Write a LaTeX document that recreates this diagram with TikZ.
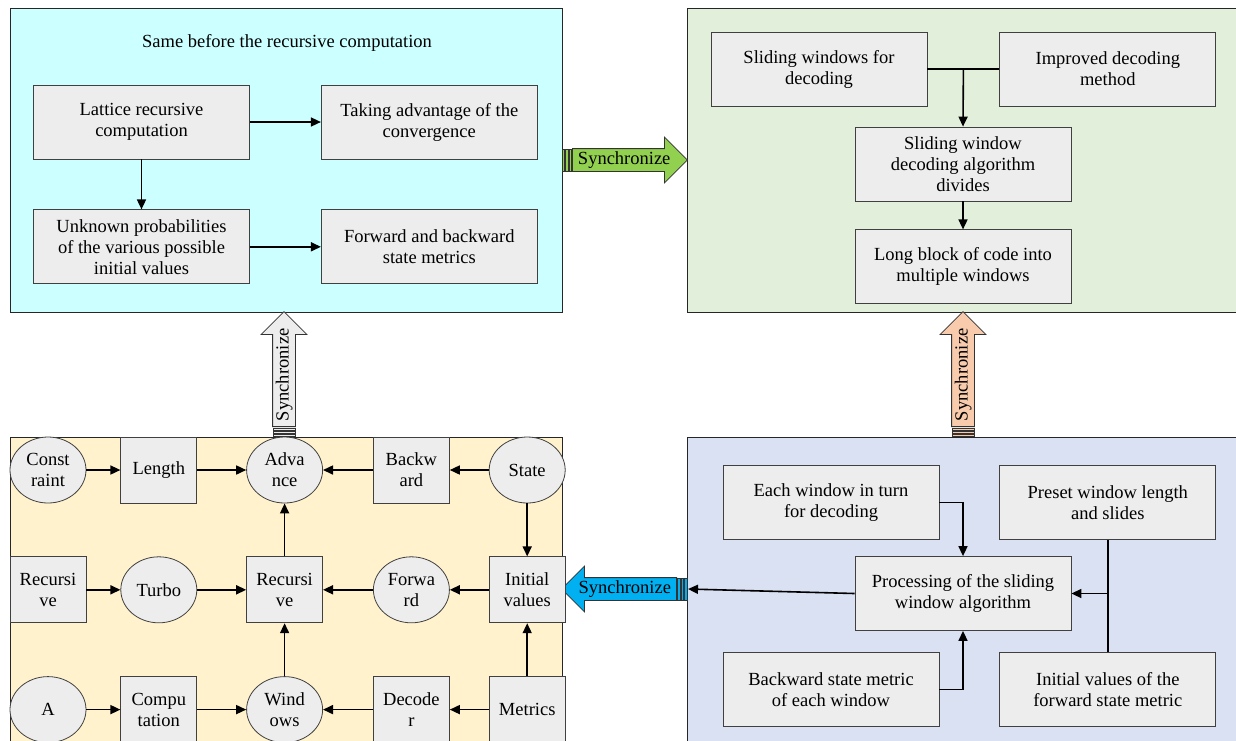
\documentclass[tikz,border=0pt]{standalone}
\usepackage{fontspec}
\setmainfont{Liberation Serif}
\usepackage{tikz}
\usetikzlibrary{positioning}
\usetikzlibrary{calc}
\usetikzlibrary{arrows.meta}
\usetikzlibrary{shapes.geometric}
\usetikzlibrary{shapes.arrows}
\usepackage{xcolor}
\definecolor{cyanpanel}{HTML}{CCFFFF}
\definecolor{greenpanel}{HTML}{E2EFDA}
\definecolor{yellowpanel}{HTML}{FFF2CC}
\definecolor{bluepanel}{HTML}{DAE1F3}
\definecolor{boxgray}{HTML}{EDEDED}
\definecolor{syncgreen}{HTML}{92D050}
\definecolor{syncorange}{HTML}{F8CBAD}
\definecolor{syncblue}{HTML}{00B0F0}

\begin{document}
\begin{tikzpicture} [x = 1pt, y = -1pt,
        every node/.style = {font = \fontsize{18.5}{21}\selectfont},
        panel/.style = {draw = black!85, line width = 0.8pt},
        box/.style = {draw = black!75, fill = boxgray, line width = 0.8pt, minimum width = 216pt, minimum height = 74pt, align = center, inner sep = 1pt},
        cell/.style = {draw = black!75, fill = boxgray, line width = 0.8pt, minimum width = 76pt, minimum height = 66pt, align = center, inner sep = 1pt},
        oval/.style = {cell, ellipse},
        link/.style = {line width = 1.6pt, -{Triangle[length = 10pt, width = 9pt]}},
        sync/.style = {single arrow, draw = black!80, line width = 0.8pt, single arrow head extend = 11.5pt, minimum height = 115pt, inner xsep = 1pt, inner ysep = 3pt, text height = 12.5pt, text depth = 3.5pt},
        stripe/.style = {draw = black!80, line width = 0.5pt}]
        \useasboundingbox (0,0) rectangle (1236,740);
        \clip (0,0) rectangle (1236,740);

        %Felder
        \draw[panel, fill = cyanpanel] (10,8) rectangle (562,312);
        \draw[panel, fill = greenpanel] (687,8) rectangle (1240,312);
        \draw[panel, fill = yellowpanel] (10,437) rectangle (562,745);
        \draw[panel, fill = bluepanel] (687,437) rectangle (1240,745);

        %Synchronize
        \node[sync, fill = syncgreen, anchor = tail] (s1) at (572,160) {Synchronize};
        \draw[stripe, fill = syncgreen] (562,149) rectangle (564.5,171);
        \draw[stripe, fill = syncgreen] (565.5,149) rectangle (568,171);
        \draw[stripe, fill = syncgreen] (569,149) rectangle (571.5,171);

        \node[sync, fill = boxgray, anchor = tail, rotate = 90] (s2) at (284,427) {Synchronize};
        \draw[stripe, fill = boxgray] (273,428) rectangle (295,430);
        \draw[stripe, fill = boxgray] (273,431) rectangle (295,433);
        \draw[stripe, fill = boxgray] (273,434) rectangle (295,436.5);

        \node[sync, fill = syncorange, anchor = tail, rotate = 90] (s3) at (963,427) {Synchronize};
        \draw[stripe, fill = syncorange] (952,428) rectangle (974,430);
        \draw[stripe, fill = syncorange] (952,431) rectangle (974,433);
        \draw[stripe, fill = syncorange] (952,434) rectangle (974,436.5);

        \node[sync, fill = syncblue, anchor = tail, shape border rotate = 180] (s4) at (677,589) {Synchronize};
        \draw[stripe, fill = syncblue] (677.5,578) rectangle (680,600);
        \draw[stripe, fill = syncblue] (681,578) rectangle (683.5,600);
        \draw[stripe, fill = syncblue] (684.5,578) rectangle (687,600);
        \coordinate (k4) at (688,589);

        %Knoten oben links
        \node (t0) at (287,43) {Same before the recursive computation};
        \node[box] (a0) at (141.5,122) {Lattice recursive\\computation};
        \node[box] (a1) [right = 71pt of a0] {Taking advantage of the\\convergence};
        \node[box] (a2) [below = 50pt of a0] {Unknown probabilities\\of the various possible\\initial values};
        \node[box] (a3) [right = 71pt of a2] {Forward and backward\\state metrics};

        %Knoten oben rechts
        \node[box] (b0) at (819,69) {Sliding windows for\\decoding};
        \node[box] (b1) [right = 72pt of b0] {Improved decoding\\method};
        \node[box] (b2) at (963,164) {Sliding window\\decoding algorithm\\divides};
        \node[box] (b3) [below = 28pt of b2] {Long block of code into\\multiple windows};
        \coordinate (j1) at ($(b0.east)!0.5!(b1.west)$);

        %Knoten unten rechts
        \node[box] (c0) at (831,502.5) {Each window in turn\\for decoding};
        \node[box] (c1) [right = 60pt of c0] {Preset window length\\and slides};
        \node[box] (c2) at (963,593.5) {Processing of the sliding\\window algorithm};
        \node[box] (c3) [below = 112pt of c0] {Backward state metric\\of each window};
        \node[box] (c4) [below = 112pt of c1] {Initial values of the\\forward state metric};

        %Knoten unten links
        \node[oval] (00) at (48,470) {Const\\raint};
        \node[cell] (01) [right = 34pt of 00] {Length};
        \node[oval] (02) [right = 49pt of 01] {Adva\\nce};
        \node[cell] (03) [right = 50pt of 02] {Backw\\ard};
        \node[oval] (04) [right = 39pt of 03] {State};

        \node[cell] (10) [below = 53pt of 00] {Recursi\\ve};
        \node[oval] (11) [below = 53pt of 01] {Turbo};
        \node[cell] (12) [below = 53pt of 02] {Recursi\\ve};
        \node[oval] (13) [below = 53pt of 03] {Forwa\\rd};
        \node[cell] (14) [below = 53pt of 04] {Initial\\values};

        \node[oval] (20) [below = 53pt of 10] {A};
        \node[cell] (21) [below = 53pt of 11] {Compu\\tation};
        \node[oval] (22) [below = 53pt of 12] {Wind\\ows};
        \node[cell] (23) [below = 53pt of 13] {Decode\\r};
        \node[cell] (24) [below = 53pt of 14] {Metrics};

        %Kanten
        \draw[link] (a0) -- (a1);
        \draw[link] (a0) -- (a2);
        \draw[link] (a2) -- (a3);

        \draw[line width = 1.6pt] (b0.east) -- (b1.west);
        \draw[link] (j1) -- (b2.north);
        \draw[link] (b2) -- (b3);

        \draw[link] (c0.east) -| (c2.north);
        \draw[link] (c3.east) -| (c2.south);
        \draw[line width = 1.6pt] (c1.south) -- (c4.north);
        \draw[link] (c1.south |- c2.east) -- (c2.east);
        \draw[link] (c2.west) -- (k4);

        \draw[link] (00) -- (01);
        \draw[link] (01) -- (02);
        \draw[link] (03) -- (02);
        \draw[link] (04) -- (03);
        \draw[link] (04) -- (14);
        \draw[link] (10) -- (11);
        \draw[link] (11) -- (12);
        \draw[link] (13) -- (12);
        \draw[link] (14) -- (13);
        \draw[link] (12) -- (02);
        \draw[link] (20) -- (21);
        \draw[link] (21) -- (22);
        \draw[link] (23) -- (22);
        \draw[link] (24) -- (23);
        \draw[link] (22) -- (12);
        \draw[link] (24) -- (14);

    \end{tikzpicture}
\end{document}
